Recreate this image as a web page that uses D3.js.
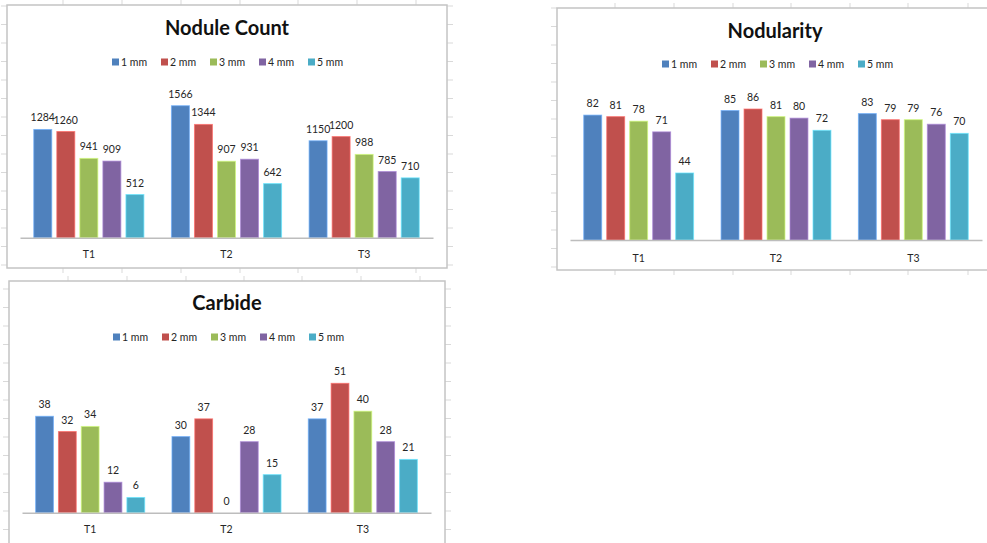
<!DOCTYPE html>
<html>
<head>
<meta charset="utf-8">
<script src="https://cdn.jsdelivr.net/npm/d3@7"></script>
<style>
  html, body { margin: 0; padding: 0; background: #fff; }
  svg { display: block; font-family: Lato, "Open Sans", sans-serif; }
</style>
</head>
<body>
<svg id="sheet" width="987" height="543"></svg>
<script>
// ---- data ----
const categories = ["T1", "T2", "T3"];
const seriesNames = ["1 mm", "2 mm", "3 mm", "4 mm", "5 mm"];
const seriesColors = ["#4F81BD", "#C0504D", "#9BBB59", "#8064A2", "#4BACC6"];

// values per category, one entry per series (1 mm .. 5 mm)
const noduleCount = [
  [1284, 1260, 941, 909, 512],
  [1566, 1344, 907, 931, 642],
  [1150, 1200, 988, 785, 710]
];
const nodularity = [
  [82, 81, 78, 71, 44],
  [85, 86, 81, 80, 72],
  [83, 79, 79, 76, 70]
];
const carbide = [
  [38, 32, 34, 12, 6],
  [30, 37, 0, 28, 15],
  [37, 51, 40, 28, 21]
];
const axisMax = { nodule: 1800, nodularity: 100, carbide: 60 };

// ---- drawing ----
const svg = d3.select("#sheet");
const tickColor = "#d9d9d9";
const textColor = "#262626";

// spreadsheet gridline stubs peeking out around a chart frame
function frameTicks(box, colXs, rowStart) {
  const g = svg.append("g").attr("stroke", tickColor).attr("stroke-width", 1);
  colXs.forEach(x => {
    g.append("line").attr("x1", x).attr("x2", x).attr("y1", box.y - 5).attr("y2", box.y);
    g.append("line").attr("x1", x).attr("x2", x).attr("y1", box.y + box.h).attr("y2", box.y + box.h + 5);
  });
  for (let y = rowStart; y < box.y + box.h; y += 18.5) {
    if (y < box.y) continue;
    g.append("line").attr("x1", box.x - 6).attr("x2", box.x).attr("y1", y).attr("y2", y);
    g.append("line").attr("x1", box.x + box.w).attr("x2", box.x + box.w + 6).attr("y1", y).attr("y2", y);
  }
}

function drawChart(cfg) {
  const { box, title, values, max, xRange, baseY, plotH, titleY, legendX, legendY, catY } = cfg;
  const g = svg.append("g");

  g.append("rect")
    .attr("x", box.x).attr("y", box.y).attr("width", box.w).attr("height", box.h)
    .attr("fill", "#fff").attr("stroke", "#c4c4c4").attr("stroke-width", 1.5);

  g.append("text")
    .attr("x", cfg.titleX).attr("y", titleY)
    .attr("text-anchor", "middle")
    .attr("font-size", 20).attr("font-weight", 700).attr("fill", "#111")
    .text(title);

  // legend
  const leg = g.append("g").attr("transform", `translate(${legendX},${legendY})`);
  seriesNames.forEach((name, i) => {
    const it = leg.append("g").attr("transform", `translate(${i * 49},0)`);
    it.append("rect").attr("x", 0).attr("y", -3.5).attr("width", 7).attr("height", 7)
      .attr("fill", seriesColors[i]);
    it.append("text").attr("x", 9).attr("y", 3.8)
      .attr("font-size", 10.5).attr("fill", textColor).text(name);
  });

  const x0 = d3.scaleBand().domain(categories).range(xRange)
    .paddingInner(0.2).paddingOuter(0.1);
  const x1 = d3.scaleBand().domain(seriesNames).range([0, x0.bandwidth()])
    .paddingInner(0.22).paddingOuter(0);
  const y = d3.scaleLinear().domain([0, max]).range([baseY, baseY - plotH]);

  const groups = g.selectAll("g.cat").data(categories).join("g")
    .attr("class", "cat")
    .attr("transform", d => `translate(${x0(d)},0)`);

  groups.each(function (cat, ci) {
    const grp = d3.select(this);
    const rows = values[ci].map((v, si) => ({ v, si }));
    grp.selectAll("rect").data(rows).join("rect")
      .attr("x", d => x1(seriesNames[d.si]))
      .attr("y", d => y(d.v))
      .attr("width", x1.bandwidth())
      .attr("height", d => baseY - y(d.v))
      .attr("fill", d => seriesColors[d.si])
      .attr("stroke", d => d3.color(seriesColors[d.si]).brighter(0.8))
      .attr("stroke-opacity", 0.7)
      .attr("stroke-width", 1);
    grp.selectAll("text").data(rows).join("text")
      .attr("x", d => x1(seriesNames[d.si]) + x1.bandwidth() / 2)
      .attr("y", d => y(d.v) - 8)
      .attr("text-anchor", "middle")
      .attr("font-size", 10.5).attr("fill", textColor)
      .text(d => d.v);
  });

  // category axis
  const axis = g.append("g").attr("transform", `translate(0,${baseY})`)
    .call(d3.axisBottom(x0).tickSize(0).tickPadding(0));
  axis.select(".domain").attr("stroke", "#bdbdbd").attr("stroke-width", 1.5);
  axis.selectAll("text").attr("font-size", 10.5).attr("fill", textColor)
    .attr("font-family", "Lato, 'Open Sans', sans-serif")
    .attr("dy", 0).attr("y", catY - baseY);
}

const noduleBox = { x: 7, y: 5, w: 440, h: 263 };
const nodBox = { x: 557, y: 8, w: 440, h: 262 };
const carbBox = { x: 9, y: 281, w: 436, h: 270 };

frameTicks(noduleBox, [63, 122, 181, 240, 298, 357, 416], 6);
frameTicks(nodBox, [615, 674, 733, 791, 850, 908, 968], 8);
frameTicks(carbBox, [68, 127, 186, 244, 302, 361, 420], 289);

drawChart({
  box: noduleBox, title: "Nodule Count", values: noduleCount, max: axisMax.nodule,
  xRange: [20, 433], baseY: 237.7, plotH: 151.7,
  titleX: 227, titleY: 35, legendX: 112, legendY: 62, catY: 258
});
drawChart({
  box: nodBox, title: "Nodularity", values: nodularity, max: axisMax.nodularity,
  xRange: [570, 982], baseY: 240, plotH: 152.3,
  titleX: 775, titleY: 38, legendX: 662, legendY: 64, catY: 262
});
drawChart({
  box: carbBox, title: "Carbide", values: carbide, max: axisMax.carbide,
  xRange: [22, 431], baseY: 512.7, plotH: 152.2,
  titleX: 227, titleY: 310, legendX: 113, legendY: 337, catY: 533
});
</script>
</body>
</html>
